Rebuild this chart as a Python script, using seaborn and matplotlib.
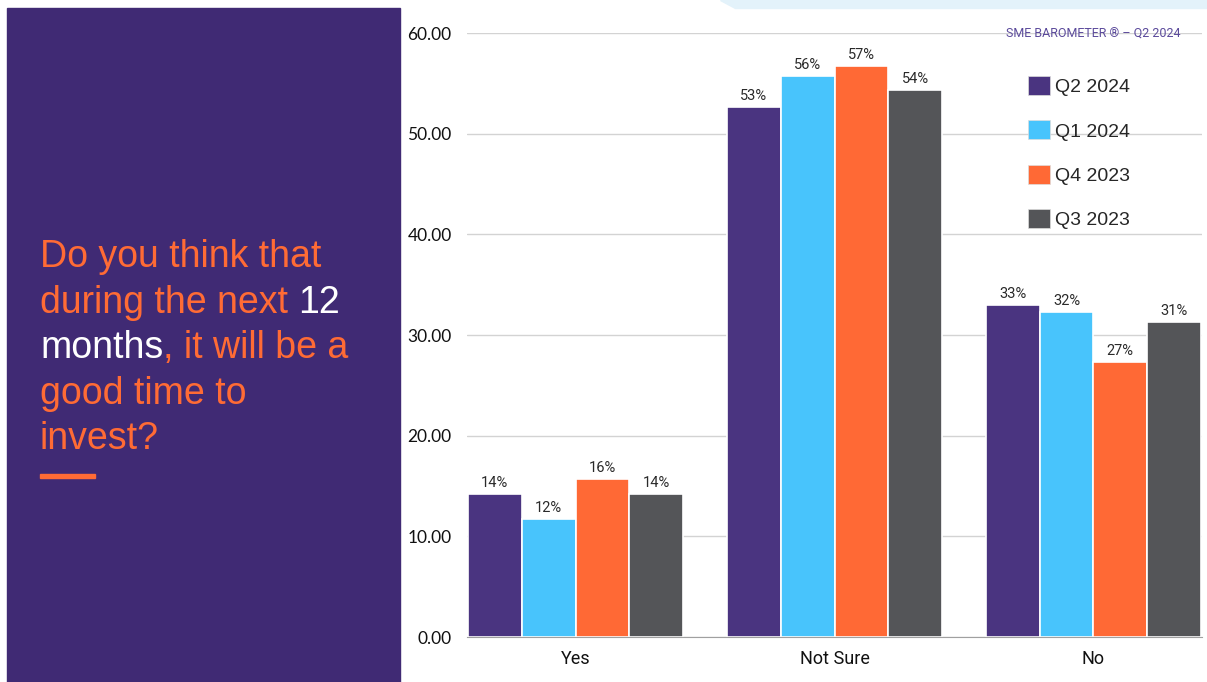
import numpy as np
import pandas as pd
import matplotlib
matplotlib.use("Agg")
import matplotlib.pyplot as plt
from matplotlib.patches import Patch, Rectangle, Polygon
import seaborn as sns

# data
answers = ["Yes", "Not Sure", "No"]
quarters = ["Q2 2024", "Q1 2024", "Q4 2023", "Q3 2023"]
q2_2024 = [14.2, 52.6, 33.0]
q1_2024 = [11.7, 55.7, 32.3]
q4_2023 = [15.7, 56.7, 27.3]
q3_2023 = [14.2, 54.3, 31.3]
yticks = [0, 10, 20, 30, 40, 50, 60]

colors = ["#4A3480", "#48C4FC", "#FF6935", "#545558"]
panel_purple = "#402A74"
orange = "#FF6B35"

df = pd.DataFrame({
    "answer": answers * 4,
    "quarter": np.repeat(quarters, 3),
    "value": q2_2024 + q1_2024 + q4_2023 + q3_2023,
})

sns.set_style("white")
W, H = 1207, 682
fig = plt.figure(figsize=(W / 100, H / 100), dpi=100)

# left purple panel and top light band
fig.patches.append(Rectangle((7 / W, 0), (400 - 7) / W, 1 - 8 / H,
                             transform=fig.transFigure, color=panel_purple, zorder=0))
fig.patches.append(Polygon([(720 / W, 1), (W / W, 1), (W / W, 1 - 8 / H), (735 / W, 1 - 8 / H)],
                           closed=True, transform=fig.transFigure, color="#E3F2FA", zorder=0))

ax = fig.add_axes([467 / W, 45 / H, 735 / W, (637 - 33) / H])
sns.barplot(data=df, x="answer", y="value", hue="quarter", order=answers,
            hue_order=quarters, palette=colors, saturation=1, width=0.83,
            edgecolor="white", linewidth=1.2, legend=False, ax=ax, zorder=3)

for cont in ax.containers:
    ax.bar_label(cont, labels=[f"{b.get_height():.0f}%" for b in cont], padding=3,
                 fontsize=10.5, color="#2A2A2A", family="Roboto")

ax.set_xlim(-0.419, 2.419)
ax.set_ylim(0, 60)
ax.set_yticks(yticks)
ax.set_yticklabels([f"{v:.2f}" for v in yticks], family="Lato", fontsize=12.5, color="#111111")
ax.tick_params(axis="y", length=0, pad=11)
ax.tick_params(axis="x", length=0, pad=9, labelsize=13)
for lab in ax.get_xticklabels():
    lab.set_family("Roboto")
    lab.set_color("#111111")
ax.set_xlabel("")
ax.set_ylabel("")
ax.grid(axis="y", color="#D3D3D3", linewidth=1, zorder=0)
sns.despine(ax=ax, left=True, top=True, right=True)
ax.spines["bottom"].set_color("#A0A0A0")
ax.spines["bottom"].set_zorder(4)

handles = [Patch(facecolor=c, edgecolor="#DDDDDD", linewidth=0.5) for c in colors]
fig.legend(handles, quarters, loc="upper left", bbox_to_anchor=(1028 / W, 1 - 76 / H),
           frameon=False, borderpad=0, borderaxespad=0,
           handlelength=1.13, handleheight=1.13, handletextpad=0.28, labelspacing=1.25,
           prop={"family": "Liberation Sans", "size": 14})

fig.text(1180 / W, 1 - 38 / H, "SME BAROMETER \u00ae \u2013 Q2 2024", ha="right", va="baseline",
         fontsize=9, color="#5B4A9B", family="Roboto")

# left question text with mixed colours
renderer = fig.canvas.get_renderer()
x0 = 40 / W
fs = 27
baselines = [267, 313, 358, 404, 449]
kw = dict(fontsize=fs, family="Liberation Sans", va="baseline", ha="left")

fig.text(x0, 1 - baselines[0] / H, "Do you think that", color=orange, **kw)

full = fig.text(x0, 1 - baselines[1] / H, "during the next 12", color=orange, **kw)
right_edge = full.get_window_extent(renderer).x1 / W
full.set_text("during the next")
fig.text(right_edge, 1 - baselines[1] / H, "12", color="white",
         fontsize=fs, family="Liberation Sans", va="baseline", ha="right")

full = fig.text(x0, 1 - baselines[2] / H, "months, it will be a", color=orange, **kw)
right_edge = full.get_window_extent(renderer).x1 / W
full.set_text("months")
full.set_color("white")
fig.text(right_edge, 1 - baselines[2] / H, ", it will be a", color=orange,
         fontsize=fs, family="Liberation Sans", va="baseline", ha="right")

fig.text(x0, 1 - baselines[3] / H, "good time to", color=orange, **kw)
fig.text(x0, 1 - baselines[4] / H, "invest?", color=orange, **kw)

fig.patches.append(Rectangle((40 / W, 1 - 478 / H), 55 / W, 4 / H,
                             transform=fig.transFigure, color=orange, zorder=2))

fig.savefig("out.png", dpi=100)
